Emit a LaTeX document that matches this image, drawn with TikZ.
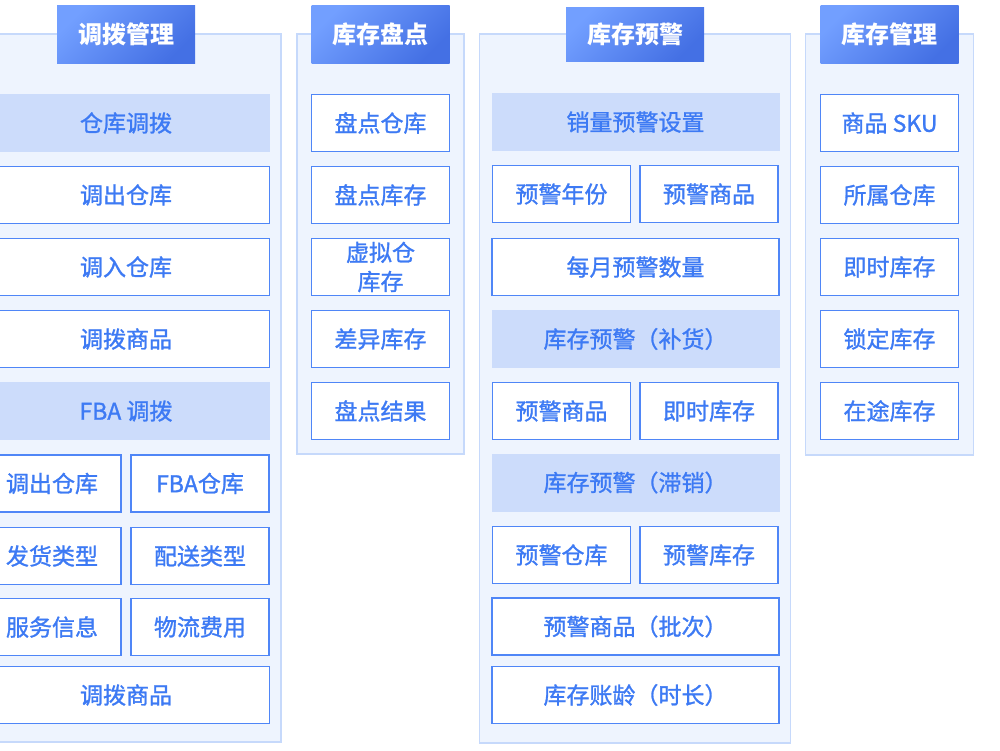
\documentclass[tikz,border=0pt]{standalone}
\usepackage{fontspec}
\setmainfont{Noto Sans CJK SC}
\newfontfamily\itemfont{Noto Sans CJK SC}[FakeBold=1.2]
\usepackage{tikz}
\usetikzlibrary{positioning}
\definecolor{panelfill}{HTML}{EEF4FE}
\definecolor{paneldraw}{HTML}{C6D9FB}
\definecolor{itemblue}{HTML}{4F86F7}
\definecolor{textblue}{HTML}{3D7AF4}
\definecolor{subfill}{HTML}{CCDCFB}
\definecolor{titletop}{HTML}{729FFF}
\definecolor{titlebot}{HTML}{4470E4}
\tikzset{
    panel/.style={rectangle, draw=paneldraw, fill=panelfill, line width=1.5pt, inner sep=0pt},
    titlebox/.style={rectangle, top color=titletop, bottom color=titlebot, shading angle=45, minimum width=138pt, minimum height=58pt, text=white, font=\fontsize{24}{28}\selectfont\bfseries, inner sep=0pt},
    item/.style={rectangle, draw=itemblue, fill=white, line width=1.5pt, minimum height=57pt, text=textblue, font=\itemfont\fontsize{23}{29}\selectfont, align=center, inner sep=0pt},
    subhead/.style={rectangle, fill=subfill, minimum height=58pt, text=textblue, font=\itemfont\fontsize{23}{29}\selectfont, inner sep=0pt},
    full/.style={minimum width=287pt},
    half/.style={minimum width=138pt},
}

\begin{document}
\begin{tikzpicture}[x=1pt, y=-1pt]
    \useasboundingbox (0,0) rectangle (1000,750);
    \clip (0,0) rectangle (1000,750);

    % panels
    \node[panel, minimum width=310pt, minimum height=708pt] (transfer) at (126,388) {};
    \node[panel, minimum width=167pt, minimum height=420pt] (count) at (380.5,244) {};
    \node[panel, minimum width=311pt, minimum height=709pt] (alert) at (635,388.5) {};
    \node[panel, minimum width=168pt, minimum height=421pt] (stock) at (889.5,244.5) {};

    % titles
    \node[titlebox] (transfertitle) at (126,34) {调拨管理};
    \node[titlebox] (counttitle) at (380.5,34) {库存盘点};
    \node[titlebox, minimum height=54pt] (alerttitle) at (635,34) {库存预警};
    \node[titlebox] (stocktitle) at (889.5,34) {库存管理};

    % 调拨管理
    \node[subhead, minimum width=288pt] (whtransfer) at (126,123) {仓库调拨};
    \node[item, minimum width=287pt] (outwh) at (126,195) {调出仓库};
    \node[item, minimum width=287pt] (inwh) at (126,267) {调入仓库};
    \node[item, minimum width=287pt] (transgoods) at (126,339) {调拨商品};
    \node[subhead, minimum width=288pt] (fbatransfer) at (126,411) {FBA 调拨};
    \node[item, half] (fbaout) at (52,483.5) {调出仓库};
    \node[item, half] (fbawh) at (200,483.5) {FBA仓库};
    \node[item, half] (shiptype) at (52,556) {发货类型};
    \node[item, half] (delivtype) at (200,556) {配送类型};
    \node[item, half] (service) at (52,627) {服务信息};
    \node[item, half] (logfee) at (200,627) {物流费用};
    \node[item, minimum width=287pt] (fbagoods) at (126,695) {调拨商品};

    % 库存盘点
    \node[item, half] (countwh) at (380.5,123) {盘点仓库};
    \node[item, half] (countstock) at (380.5,195) {盘点库存};
    \node[item, half] (virtstock) at (380.5,267) {虚拟仓\\库存};
    \node[item, half] (diffstock) at (380.5,339) {差异库存};
    \node[item, half] (countresult) at (380.5,411) {盘点结果};

    % 库存预警
    \node[subhead, minimum width=288pt] (salesalert) at (635.5,122) {销量预警设置};
    \node[item, half] (alertyear) at (561.5,194) {预警年份};
    \node[item, half] (alertgoods) at (709,194) {预警商品};
    \node[item, full] (monthqty) at (635.5,267) {每月预警数量};
    \node[subhead, minimum width=288pt] (restock) at (635.5,339) {库存预警（补货）};
    \node[item, half] (rsgoods) at (561.5,411) {预警商品};
    \node[item, half] (rsstock) at (709,411) {即时库存};
    \node[subhead, minimum width=288pt] (slow) at (635.5,482.5) {库存预警（滞销）};
    \node[item, half] (slowwh) at (561.5,555) {预警仓库};
    \node[item, half] (slowstock) at (709,555) {预警库存};
    \node[item, full] (batchgoods) at (635.5,626.5) {预警商品（批次）};
    \node[item, full] (stockage) at (635.5,695) {库存账龄（时长）};

    % 库存管理
    \node[item, half] (sku) at (889.5,123) {商品 SKU};
    \node[item, half] (ownwh) at (889.5,195) {所属仓库};
    \node[item, half] (curstock) at (889.5,267) {即时库存};
    \node[item, half] (lockstock) at (889.5,339) {锁定库存};
    \node[item, half] (transit) at (889.5,411) {在途库存};
\end{tikzpicture}
\end{document}
